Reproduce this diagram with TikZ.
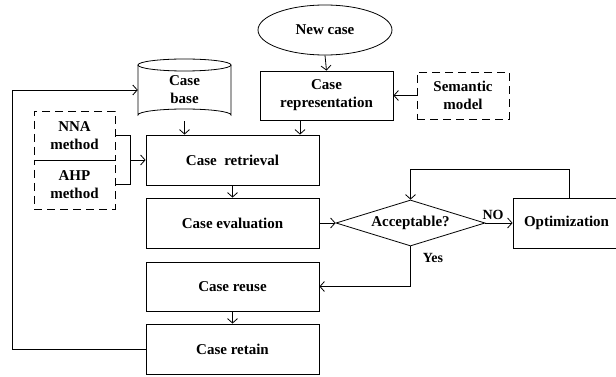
\documentclass[tikz,border=0pt]{standalone}
\usepackage{fontspec}
\setmainfont{Liberation Serif}
\usetikzlibrary{shapes.geometric,arrows.meta}
\tikzset{
  every node/.style={font=\bfseries\fontsize{15}{18}\selectfont, align=center, inner sep=0pt},
  box/.style={draw, rectangle, line width=0.8pt},
  dbox/.style={draw, rectangle, line width=0.8pt, dash pattern=on 8pt off 5pt},
  conn/.style={line width=0.8pt},
  arr/.style={conn, -{Straight Barb[length=4.5pt,width=10pt]}},
  lbl/.style={font=\bfseries\fontsize{14}{16}\selectfont}
}
\begin{document}
\begin{tikzpicture}[x=1pt,y=-1pt]
\clip (0,0) rectangle (616,377);
\fill[white] (0,0) rectangle (616,377);
% nodes
\node[draw, ellipse, line width=0.8pt, minimum width=134, minimum height=50] (newcase) at (325,30) {New case};
\node[box, minimum width=133, minimum height=49] (rep) at (326.5,95.5) {Case\\representation};
\node[dbox, minimum width=92, minimum height=47] (sem) at (463,95.5) {Semantic\\model};
% cylinder
\draw[conn, fill=white] (138,65) -- (138,115) arc[start angle=180, end angle=360, x radius=46.5, y radius=6] -- (231,65);
\draw[conn] (184.5,65) ellipse[x radius=46.5, y radius=6];
\node[minimum width=93, minimum height=62] (base) at (184.5,90) {Case\\base};
\node[box, minimum width=173, minimum height=50] (retr) at (232.5,160) {Case~~retrieval};
\node[dbox, minimum width=81, minimum height=49] (nna) at (74.5,135.5) {NNA\\method};
\node[dbox, minimum width=81, minimum height=49] (ahp) at (74.5,184.5) {AHP\\method};
\node[box, minimum width=173, minimum height=50] (eval) at (232.5,223) {Case evaluation};
\node[box, minimum width=173, minimum height=49] (reuse) at (232.5,286.5) {Case reuse};
\node[box, minimum width=173, minimum height=50] (retain) at (232.5,349) {Case retain};
\node[draw, diamond, aspect=3.24, line width=0.8pt, minimum width=149, minimum height=46] (acc) at (410.5,223) {Acceptable?};
\node[box, minimum width=107, minimum height=50] (opt) at (566.5,223) {Optimization};
\coordinate (jx) at (130,160);
% connectors
\draw[arr] (newcase.south) -- (rep.north);
\draw[arr] (sem.west) -- (rep.east);
\draw[arr] (base.south) -- (base.south |- retr.north);
\draw[arr] ([xshift=-26.5pt]rep.south) -- ([xshift=-26.5pt]rep.south |- retr.north);
\draw[conn] (nna.east) -- (nna.east -| jx) -- (ahp.east -| jx) -- (ahp.east);
\draw[arr] (jx) -- (retr.west);
\draw[arr] (retr.south) -- (eval.north);
\draw[arr] (reuse.south) -- (retain.north);
\draw[arr] (eval.east) -- (acc.west);
\draw[arr] (acc.east) -- (opt.west);
\node[lbl] (no) at (493,215) {NO};
\draw[arr] ([xshift=2.5pt]opt.north) -- ++(0,-28) -| (acc.north);
\draw[arr] (acc.south) |- (reuse.east);
\node[lbl] (yes) at (433,258) {Yes};
\draw[arr] (retain.west) -- ++(-133,0) |- (base.west);
\end{tikzpicture}
\end{document}
